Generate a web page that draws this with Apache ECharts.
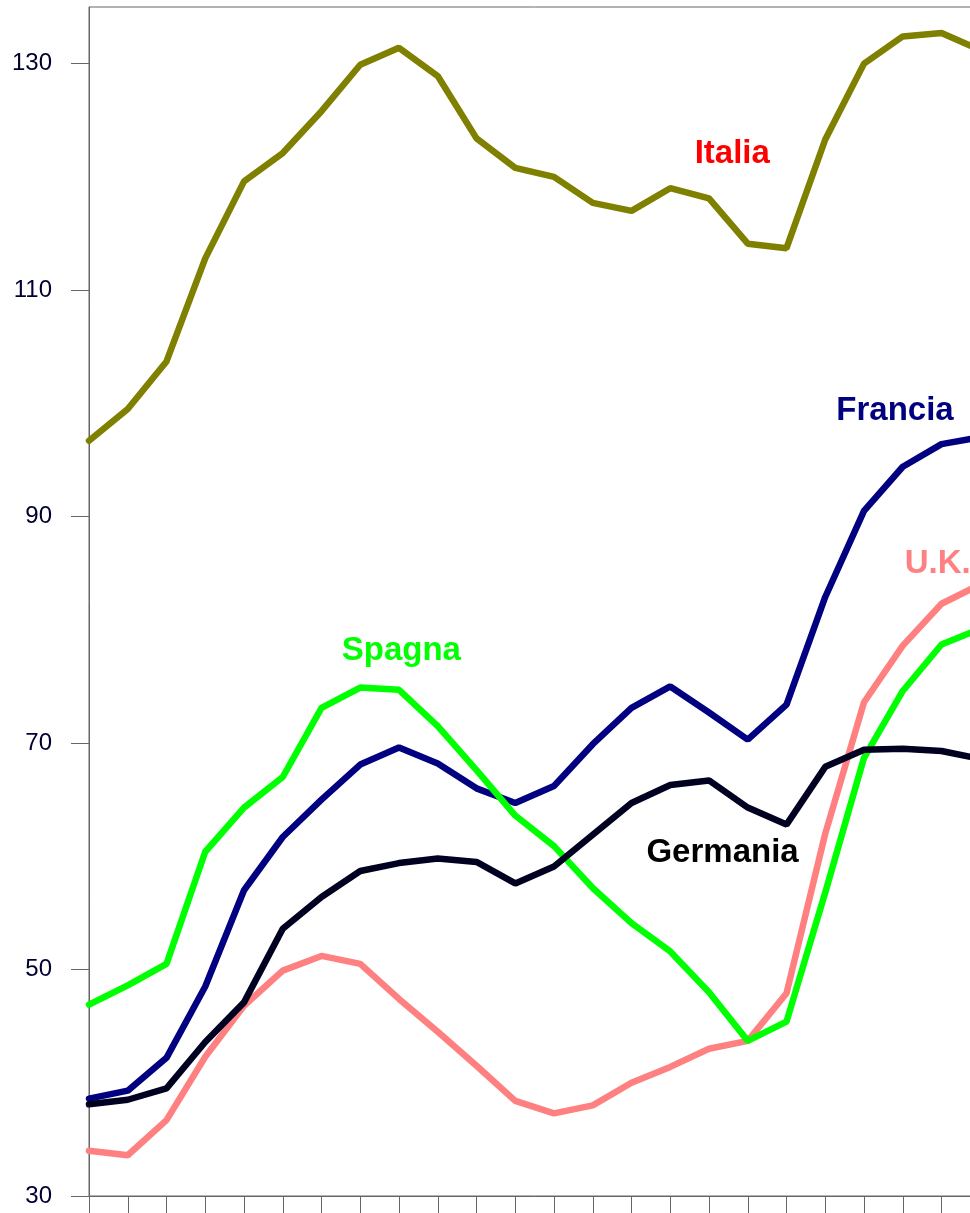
<!DOCTYPE html>
<html>
<head>
<meta charset="UTF-8">
<title>Italia, Francia, U.K., Spagna, Germania</title>
<script src="https://cdn.jsdelivr.net/npm/echarts@6/dist/echarts.min.js"></script>
<style>
  html, body { margin: 0; padding: 0; overflow: hidden; background: #fff; }
  #chart { width: 1000px; height: 1213px; }
</style>
</head>
<body>
<div id="chart"></div>
<script>
// periodi (indice), l'ultimo cade oltre il bordo destro
const periods = [0, 1, 2, 3, 4, 5, 6, 7, 8, 9, 10, 11, 12, 13, 14, 15, 16, 17, 18, 19, 20, 21, 22, 23];

const italia   = [96.7, 99.5, 103.7, 112.8, 119.6, 122.1, 125.8, 129.9, 131.4, 128.9, 123.4, 120.8, 120.0, 117.7, 117.0, 119.0, 118.1, 114.1, 113.7, 123.3, 130.0, 132.4, 132.7, 131.2];
const francia  = [38.6, 39.3, 42.2, 48.5, 57.0, 61.7, 65.0, 68.1, 69.6, 68.2, 66.0, 64.7, 66.2, 69.9, 73.1, 75.0, 72.7, 70.3, 73.4, 82.9, 90.5, 94.4, 96.4, 97.0];
const uk       = [34.0, 33.6, 36.7, 42.3, 46.8, 49.9, 51.2, 50.5, 47.4, 44.5, 41.5, 38.4, 37.3, 38.0, 40.0, 41.4, 43.0, 43.7, 47.9, 62.0, 73.6, 78.6, 82.3, 84.0];
const spagna   = [46.9, 48.6, 50.5, 60.4, 64.3, 67.0, 73.1, 74.9, 74.7, 71.5, 67.6, 63.6, 60.9, 57.2, 54.1, 51.6, 48.0, 43.7, 45.4, 56.8, 68.7, 74.6, 78.7, 80.1];
const germania = [38.1, 38.5, 39.5, 43.6, 47.1, 53.6, 56.4, 58.7, 59.4, 59.8, 59.5, 57.6, 59.1, 61.9, 64.7, 66.3, 66.7, 64.3, 62.8, 67.9, 69.4, 69.5, 69.3, 68.6];

const yTicks = [30, 50, 70, 90, 110, 130];

const chart = echarts.init(document.getElementById('chart'));

function pairs(values) {
    return periods.map((p, i) => [p, values[i]]);
}

// nome sul grafico, posto in coordinate dei dati
function makeLine(name, values, color, labelAt) {
    return {
        name: name,
        type: 'line',
        data: pairs(values),
        symbol: 'none',
        lineStyle: { color: color, width: 6.5, cap: 'round' },
        markPoint: {
            symbol: 'circle',
            symbolSize: 0,
            silent: true,
            data: [{ coord: labelAt, name: name }],
            label: {
                show: true,
                position: 'inside',
                formatter: '{b}',
                fontFamily: 'Liberation Sans, Arial, sans-serif',
                fontWeight: 'bold',
                fontSize: 33,
                color: labelAt[2]
            }
        }
    };
}

const option = {
    animation: false,
    backgroundColor: '#fff',
    grid: {
        left: 89, top: 7, right: 19.75, bottom: 17,
        show: true, borderColor: '#666', borderWidth: 1
    },
    xAxis: {
        type: 'value',
        min: 0, max: 23, interval: 1,
        axisLine: { show: true, lineStyle: { color: '#666', width: 1 } },
        axisTick: { show: true, length: 18, lineStyle: { color: '#666', width: 1 } },
        axisLabel: { show: false },
        splitLine: { show: false }
    },
    yAxis: {
        type: 'value',
        min: 30, max: 135, interval: 20,
        axisLine: { show: true, lineStyle: { color: '#666', width: 1 } },
        axisTick: { show: true, length: 18, customValues: yTicks, lineStyle: { color: '#666', width: 1 } },
        axisLabel: {
            customValues: yTicks,
            fontFamily: 'Liberation Sans, Arial, sans-serif',
            fontSize: 24, color: '#000030', margin: 37
        },
        splitLine: { show: false }
    },
    series: [
        makeLine('Italia', italia, '#808000', [16.6, 122.0, '#ff0000']),
        makeLine('Francia', francia, '#000080', [20.8, 99.3, '#000080']),
        makeLine('U.K.', uk, '#ff8080', [21.9, 85.8, '#ff8080']),
        makeLine('Spagna', spagna, '#00ff00', [8.06, 78.1, '#00ff00']),
        makeLine('Germania', germania, '#000020', [16.35, 60.3, '#000000'])
    ]
};

chart.setOption(option);
</script>
</body>
</html>
